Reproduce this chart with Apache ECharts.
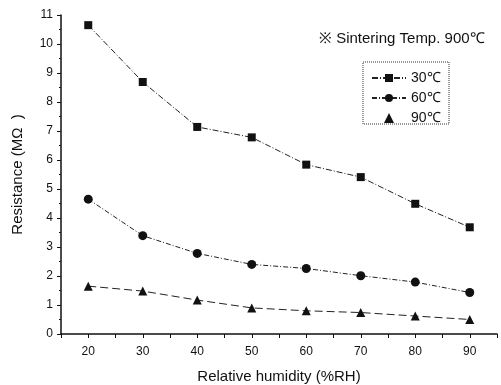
<!DOCTYPE html>
<html>
<head>
<meta charset="utf-8">
<script src="https://cdn.jsdelivr.net/npm/echarts@6/dist/echarts.min.js"></script>
<style>
  html, body { margin: 0; padding: 0; background: #fff; }
  #chart { width: 501px; height: 385px; }
</style>
</head>
<body>
<div id="chart"></div>
<script>
// humidity (%RH)
var humidity = [20, 30, 40, 50, 60, 70, 80, 90];
// resistance (MΩ) at each temperature
var r30 = [10.65, 8.69, 7.14, 6.78, 5.84, 5.41, 4.49, 3.68];
var r60 = [4.65, 3.39, 2.78, 2.40, 2.26, 2.01, 1.79, 1.43];
var r90 = [1.65, 1.48, 1.17, 0.90, 0.80, 0.74, 0.62, 0.50];
var seriesNames = ['30℃', '60℃', '90℃'];

function pairs(ys) {
  return humidity.map(function (x, i) { return [x, ys[i]]; });
}

var chart = echarts.init(document.getElementById('chart'));
var font = 'Liberation Sans, Arial, sans-serif';

var option = {
  animation: false,
  backgroundColor: '#fff',
  title: {
    text: '※ Sintering Temp. 900℃',
    left: 314,
    top: 26,
    textStyle: { fontFamily: font, fontSize: 15, fontWeight: 'normal', color: '#111' }
  },
  legend: {
    orient: 'vertical',
    left: 366,
    top: 66,
    itemGap: 6,
    itemWidth: 34,
    itemHeight: 10,
    symbolKeepAspect: true,
    textStyle: { fontFamily: font, fontSize: 14, color: '#111' },
    data: [
      { name: seriesNames[0] },
      { name: seriesNames[1] },
      { name: seriesNames[2], icon: 'path://M5,0 L10,10 L0,10 Z', itemStyle: { color: '#111' } }
    ]
  },
  graphic: [{
    type: 'rect',
    shape: { x: 363, y: 62, width: 86, height: 62 },
    style: { fill: 'none', stroke: '#333', lineWidth: 1, lineDash: [1, 1] }
  }],
  grid: { left: 61, right: 4, top: 15, bottom: 51, containLabel: false, outerBoundsMode: 'none' },
  xAxis: {
    type: 'value',
    min: 15,
    max: 95,
    interval: 5,
    name: 'Relative humidity (%RH)',
    nameLocation: 'middle',
    nameGap: 35,
    nameTextStyle: { fontFamily: font, fontSize: 15, color: '#111' },
    axisLine: { lineStyle: { color: '#111', width: 1.5 } },
    axisTick: { length: 4, lineStyle: { color: '#111' } },
    axisLabel: {
      margin: 12,
      fontFamily: font, fontSize: 12, color: '#111',
      formatter: function (v) { return v % 10 === 0 ? String(v) : ''; }
    },
    splitLine: { show: false }
  },
  yAxis: {
    type: 'value',
    min: 0,
    max: 11,
    interval: 1,
    name: 'Resistance (MΩ  )',
    nameLocation: 'middle',
    nameGap: 36,
    nameTextStyle: { fontFamily: font, fontSize: 15, color: '#111' },
    axisLine: { show: true, lineStyle: { color: '#111', width: 1.5 } },
    axisTick: { show: true, length: 4, lineStyle: { color: '#111' } },
    minorTick: { show: true, splitNumber: 2, length: 2, lineStyle: { color: '#111' } },
    axisLabel: { margin: 8, fontFamily: font, fontSize: 12, color: '#111' },
    splitLine: { show: false }
  },
  series: [
    {
      name: seriesNames[0], type: 'line', data: pairs(r30),
      symbol: 'rect', symbolSize: 8,
      itemStyle: { color: '#111' },
      lineStyle: { color: '#222', width: 1, type: [6, 2, 1, 2] }
    },
    {
      name: seriesNames[1], type: 'line', data: pairs(r60),
      symbol: 'circle', symbolSize: 9,
      itemStyle: { color: '#111' },
      lineStyle: { color: '#222', width: 1, type: [5, 2, 1, 2] }
    },
    {
      name: seriesNames[2], type: 'line', data: pairs(r90),
      symbol: 'triangle', symbolSize: 9,
      itemStyle: { color: '#111' },
      lineStyle: { color: '#222', width: 1, type: [8, 4] }
    }
  ]
};

chart.setOption(option);
</script>
</body>
</html>
